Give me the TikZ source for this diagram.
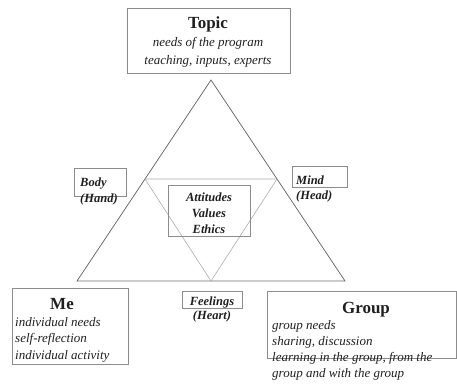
\documentclass[tikz,border=0pt]{standalone}
\usepackage{fontspec}
\setmainfont{Liberation Serif}
\definecolor{ink}{gray}{0.12}
\definecolor{frame}{gray}{0.55}
\definecolor{tri}{gray}{0.42}
\definecolor{innertri}{gray}{0.68}
\tikzset{
  box/.style={draw=frame, line width=0.6pt, inner sep=0pt, fill=none},
  title/.style={font=\fontsize{17}{20}\selectfont\bfseries, text=ink, inner sep=0pt, anchor=base},
  desc/.style={font=\fontsize{13}{16.5}\selectfont\itshape, text=ink, inner sep=0pt, align=left, anchor=base west},
  descc/.style={font=\fontsize{13}{18}\selectfont\itshape, text=ink, inner sep=0pt, align=center, anchor=base},
  lab/.style={font=\fontsize{12.5}{16}\selectfont\bfseries\itshape, text=ink, inner sep=0pt, align=left, anchor=base west},
  labc/.style={font=\fontsize{12.5}{16}\selectfont\bfseries\itshape, text=ink, inner sep=0pt, align=center, anchor=base},
  bigtri/.style={draw=tri, line width=0.8pt, line join=miter},
  smalltri/.style={draw=innertri, line width=0.6pt}
}
\begin{document}
\begin{tikzpicture}[x=1pt,y=-1pt]
\useasboundingbox (0,0) rectangle (457,383);
% triangle corners
\coordinate (apex) at (211,80);
\coordinate (bl) at (77,281);
\coordinate (br) at (345,281);
\coordinate (il) at (145,179);
\coordinate (ir) at (277,179);
\coordinate (ib) at (211,281);
\draw[bigtri] (apex) -- (br) -- (bl) -- cycle;
\draw[smalltri] (il) -- (ir) -- (ib) -- cycle;
% Topic
\node[box, minimum width=163pt, minimum height=65pt] (topicbox) at (208.5,40.5) {};
\node[title] (topic) at (208,28.5) {Topic};
\node[descc] (topictxt) at (208,64) {needs of the program\\teaching, inputs, experts};
% Body
\node[box, minimum width=52pt, minimum height=28pt] (bodybox) at (100,182) {};
\node[lab] (body) at (80,202) {Body\\(Hand)};
% Mind
\node[box, minimum width=55pt, minimum height=21pt] (mindbox) at (319.5,176.5) {};
\node[lab, font=\fontsize{12.5}{15}\selectfont\bfseries\itshape] (mind) at (296,199) {Mind\\(Head)};
% Centre
\node[box, minimum width=82pt, minimum height=51pt] (centrebox) at (209,210.5) {};
\node[labc] (centre) at (209,233) {Attitudes\\Values\\Ethics};
% Feelings
\node[box, minimum width=60pt, minimum height=17pt] (feelbox) at (212,299.5) {};
\node[labc, font=\fontsize{12.5}{14}\selectfont\bfseries\itshape] (feel) at (212,319) {Feelings\\(Heart)};
% Me
\node[box, minimum width=116pt, minimum height=76pt] (mebox) at (70,326) {};
\node[title] (me) at (62,309) {Me};
\node[desc] (metxt) at (15,359) {individual needs\\self-reflection\\individual activity};
% Group
\node[box, minimum width=189pt, minimum height=67pt] (groupbox) at (361.5,324.5) {};
\node[title] (group) at (366,313) {Group};
\node[desc, font=\fontsize{13}{15.7}\selectfont\itshape] (grouptxt) at (272,377) {group needs\\sharing, discussion\\learning in the group, from the\\group and with the group};
\end{tikzpicture}
\end{document}
